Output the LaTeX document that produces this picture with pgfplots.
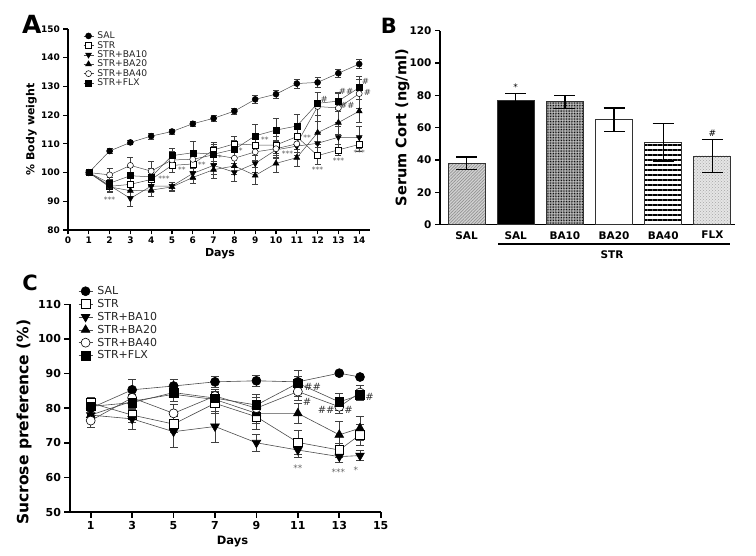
\documentclass[border=0pt]{standalone}
\usepackage{fontspec}
\setmainfont{DejaVu Sans}
\usepackage{pgfplots}
\pgfplotsset{compat=1.18}
\usetikzlibrary{patterns,patterns.meta}
\newcommand{\fs}[1]{\fontsize{#1}{#1}\selectfont}
\pgfplotsset{
  gp/.style={
    scale only axis,
    axis lines=left,
    axis line style={-, line width=1.2pt},
    tick align=outside,
    tick style={black, line width=1.1pt},
    major tick length=4.5pt,
    minor tick num=0,
    /pgf/number format/assume math mode=true,
    tick label style={font=\bfseries\fs{9}},
    label style={font=\bfseries\fs{11}},
    clip=false,
  },
  lnA/.style={line width=0.5pt, color=black!70,
    error bars/y dir=both, error bars/y explicit,
    error bars/error bar style={line width=0.5pt, black!75},
    error bars/error mark options={rotate=90, mark size=3pt, line width=0.5pt, black!75}},
  lnC/.style={line width=0.6pt, color=black!70,
    error bars/y dir=both, error bars/y explicit,
    error bars/error bar style={line width=0.6pt, black!75},
    error bars/error mark options={rotate=90, mark size=4pt, line width=0.6pt, black!75}},
}
\begin{document}
\begin{tikzpicture}
\path (0pt,0pt) rectangle (756pt,555pt);
% ---------------- Panel A ----------------
\begin{axis}[gp,
  at={(68pt,325pt)}, anchor=south west, width=301.6pt, height=201pt,
  xmin=0, xmax=14.5, ymin=80, ymax=150,
  xtick={0,1,...,14}, ytick={80,90,...,150},
  xticklabel style={yshift=1pt},
  xlabel={Days}, ylabel={\% Body weight},
  xlabel style={at={(axis description cs:0.504,-0.119)}, anchor=center},
  ylabel style={at={(axis description cs:-0.121,0.5)}, anchor=center},
  legend style={at={(rel axis cs:0.05,0.99)}, anchor=north west, draw=none, fill=none,
    font=\fs{9.2}, inner sep=0pt, row sep=0pt, nodes={inner sep=0.55pt, text=black!85},
    /tikz/every odd column/.append style={column sep=3pt}},
  legend cell align=left,
  legend image code/.code={\draw[mark repeat=2,mark phase=2,#1] plot coordinates {(0pt,0pt) (5pt,0pt) (10pt,0pt)};},
]
\addplot[lnA, mark=*, mark size=3pt, mark options={solid, draw=black, fill=black}] coordinates {
(1,100) +- (0,0) (2,107.5) +- (0,0.8) (3,110.5) +- (0,0.8) (4,112.7) +- (0,1) (5,114.3) +- (0,0.8)
(6,117.0) +- (0,1) (7,118.9) +- (0,1.2) (8,121.4) +- (0,1) (9,125.5) +- (0,1.5) (10,127.3) +- (0,1.5)
(11,131.0) +- (0,1.5) (12,131.4) +- (0,1.8) (13,134.6) +- (0,1.5) (14,137.8) +- (0,1.5)};
\addlegendentry{SAL}
\addplot[lnA, mark=square*, mark size=3pt, mark options={solid, draw=black, fill=white}] coordinates {
(1,100) +- (0,0) (2,95.2) +- (0,2) (3,95.9) +- (0,2) (4,97.6) +- (0,2.5) (5,102.5) +- (0,2.5)
(6,103.0) +- (0,3) (7,107.9) +- (0,2.5) (8,110.0) +- (0,2.5) (9,109.6) +- (0,2.5) (10,109.6) +- (0,3)
(11,112.5) +- (0,3) (12,105.9) +- (0,3) (13,107.9) +- (0,2) (14,109.8) +- (0,2.5)};
\addlegendentry{STR}
\addplot[lnA, mark=triangle*, mark size=3.4pt, mark options={solid, draw=black, fill=black, rotate=180}] coordinates {
(1,100) +- (0,0) (2,95.5) +- (0,2) (3,91.0) +- (0,2.8) (4,95.3) +- (0,2) (5,95.3) +- (0,1.5)
(6,99.7) +- (0,2) (7,102.5) +- (0,3) (8,100.1) +- (0,3) (9,103.2) +- (0,3) (10,107.9) +- (0,3)
(11,109.2) +- (0,3) (12,110.2) +- (0,4) (13,112.3) +- (0,4) (14,112.3) +- (0,4)};
\addlegendentry{STR+BA10}
\addplot[lnA, mark=triangle*, mark size=3.4pt, mark options={solid, draw=black, fill=black}] coordinates {
(1,100) +- (0,0) (2,95.0) +- (0,2) (3,93.7) +- (0,2) (4,93.9) +- (0,2) (5,95.0) +- (0,1.5)
(6,98.3) +- (0,2) (7,101.0) +- (0,3) (8,102.3) +- (0,3) (9,99.0) +- (0,3) (10,103.2) +- (0,3)
(11,105.2) +- (0,3) (12,113.9) +- (0,4) (13,117.4) +- (0,4) (14,121.4) +- (0,4)};
\addlegendentry{STR+BA20}
\addplot[lnA, mark=*, mark size=3pt, mark options={solid, draw=black, fill=white}] coordinates {
(1,100) +- (0,0) (2,99.2) +- (0,2.2) (3,102.5) +- (0,3) (4,100.5) +- (0,3.5) (5,104.4) +- (0,3)
(6,104.6) +- (0,3) (7,106.2) +- (0,3) (8,105.0) +- (0,3) (9,107.2) +- (0,3) (10,108.3) +- (0,3)
(11,110.0) +- (0,3) (12,123.0) +- (0,5) (13,122.5) +- (0,5) (14,127.5) +- (0,5)};
\addlegendentry{STR+BA40}
\addplot[lnA, mark=square*, mark size=3pt, mark options={solid, draw=black, fill=black}] coordinates {
(1,100) +- (0,0) (2,96.3) +- (0,2) (3,98.9) +- (0,3) (4,98.5) +- (0,3) (5,105.9) +- (0,2.5)
(6,106.9) +- (0,4) (7,106.4) +- (0,3.5) (8,108.1) +- (0,3) (9,112.8) +- (0,4) (10,114.8) +- (0,4)
(11,116.2) +- (0,4) (12,124.1) +- (0,4) (13,124.9) +- (0,3) (14,129.6) +- (0,4)};
\addlegendentry{STR+FLX}
\begin{scope}[every node/.style={font=\fs{7.5}, text=black!65, inner sep=0pt}]
\node at (axis cs:2,90.6) {***};
\node at (axis cs:4.62,97.7) {***};
\node at (axis cs:5.48,100.9) {**};
\node at (axis cs:6.44,102.6) {**};
\node at (axis cs:7.31,105.2) {*};
\node at (axis cs:8.3,107.6) {*};
\node at (axis cs:9.47,111.3) {**};
\node at (axis cs:10.55,106.7) {***};
\node at (axis cs:11.5,112.3) {**};
\node at (axis cs:12.0,101.1) {***};
\node at (axis cs:13.0,104.0) {***};
\node at (axis cs:14.0,106.9) {***};
\end{scope}
\begin{scope}[every node/.style={font=\fs{8.5}, text=black!75, inner sep=0pt}]
\node at (axis cs:12.32,125.5) {\#};
\node at (axis cs:13.37,128.4) {\#\#};
\node at (axis cs:13.43,123.5) {\#\#};
\node at (axis cs:14.3,131.7) {\#};
\node at (axis cs:14.39,128.0) {\#};
\end{scope}
\end{axis}
\node[font=\bfseries\fs{25}] at (31.7pt,531pt) {A};
% ---------------- Panel B ----------------
\begin{axis}[gp,
  at={(440pt,330.3pt)}, anchor=south west, width=295pt, height=194pt,
  axis line style={-, line width=1.5pt},
  tick style={black, line width=1.3pt}, major tick length=5pt,
  xmin=-0.54, xmax=5.46, ymin=0, ymax=120,
  ytick={0,20,...,120}, xtick={0,1,2,3,4,5},
  xticklabels={SAL,SAL,BA10,BA20,BA40,FLX},
  x tick style={draw=none},
  tick label style={font=\bfseries\fs{10.5}},
  xticklabel style={yshift=2pt},
  ylabel={Serum Cort (ng/ml)},
  ylabel style={font=\bfseries\fs{14.5}, at={(axis description cs:-0.127,0.5)}, anchor=center},
  every axis plot/.append style={ybar, bar width=37pt, bar shift=0pt, draw=black!80, line width=0.8pt,
    error bars/y dir=both, error bars/y explicit,
    error bars/error bar style={line width=1.4pt, black},
    error bars/error mark options={rotate=90, mark size=10.5pt, line width=1.4pt, black}},
]
\addplot[fill=gray!35, postaction={pattern={Lines[angle=45,distance=2.2pt,line width=0.7pt]}, pattern color=gray!85}] coordinates {(0,38) +- (0,3.8)};
\addplot[fill=black] coordinates {(1,77) +- (0,4)};
\addplot[fill=gray!45, postaction={pattern={Dots[distance=1.6pt,radius=0.55pt]}, pattern color=black}] coordinates {(2,76) +- (0,4)};
\addplot[fill=white] coordinates {(3,65) +- (0,7.3)};
\addplot[fill=white, postaction={pattern={Lines[angle=0,distance=5pt,line width=1.2pt]}, pattern color=black}] coordinates {(4,51) +- (0,11.5)};
\addplot[fill=gray!20, postaction={pattern=crosshatch dots, pattern color=gray!70}] coordinates {(5,42.5) +- (0,10.3)};
\node[font=\fs{9}, inner sep=0pt] at (axis cs:1,85) {*};
\node[font=\fs{9}, inner sep=0pt] at (axis cs:5,56.7) {\#};
\end{axis}
\draw[line width=1.3pt] (498pt,311pt) -- (730pt,311pt);
\node[font=\bfseries\fs{10.5}] at (612pt,300pt) {STR};
\node[font=\bfseries\fs{21}] at (389pt,529.5pt) {B};
% ---------------- Panel C ----------------
\begin{axis}[gp,
  at={(70pt,43pt)}, anchor=south west, width=310.7pt, height=207.7pt,
  axis line style={-, line width=1.8pt},
  tick style={black, line width=1.6pt}, major tick length=5.5pt,
  xmin=0, xmax=15, ymin=50, ymax=110,
  xtick={1,3,...,15}, ytick={50,60,...,110},
  tick label style={font=\bfseries\fs{11}},
  xlabel={Days}, ylabel={Sucrose preference (\%)},
  xlabel style={font=\bfseries\fs{11.5}, at={(axis description cs:0.523,-0.143)}, anchor=center},
  ylabel style={font=\bfseries\fs{15.5}, at={(axis description cs:-0.148,0.433)}, anchor=center},
  legend style={at={(rel axis cs:0.026,1.092)}, anchor=north west, draw=none, fill=none,
    font=\fs{11}, inner sep=0pt, row sep=1.2pt, nodes={inner sep=1pt, text=black!85},
    /tikz/every odd column/.append style={column sep=3.5pt}},
  legend cell align=left,
  legend image code/.code={\draw[mark repeat=2,mark phase=2,#1] plot coordinates {(0pt,0pt) (7pt,0pt) (14pt,0pt)};},
]
\addplot[lnC, mark=*, mark size=4.5pt, mark options={solid, draw=black, fill=black}] coordinates {
(1,80.0) +- (0,2) (3,85.3) +- (0,3) (5,86.4) +- (0,2) (7,87.6) +- (0,1.5) (9,87.9) +- (0,1.5)
(11,87.6) +- (0,1.5) (13,90.1) +- (0,0.5) (14,89.0) +- (0,0.5)};
\addlegendentry{SAL}
\addplot[lnC, mark=square*, mark size=4.3pt, mark options={solid, draw=black, fill=white}] coordinates {
(1,81.5) +- (0,1.5) (3,78.0) +- (0,2) (5,75.4) +- (0,2.5) (7,81.4) +- (0,3) (9,77.5) +- (0,3.5)
(11,70.1) +- (0,3.5) (13,67.9) +- (0,2) (14,72.3) +- (0,3)};
\addlegendentry{STR}
\addplot[lnC, mark=triangle*, mark size=5pt, mark options={solid, draw=black, fill=black, rotate=180}] coordinates {
(1,78.0) +- (0,2) (3,76.9) +- (0,3) (5,73.2) +- (0,4.5) (7,74.7) +- (0,4.5) (9,70.0) +- (0,2.5)
(11,67.9) +- (0,2) (13,66.0) +- (0,1.5) (14,66.3) +- (0,1.5)};
\addlegendentry{STR+BA10}
\addplot[lnC, mark=triangle*, mark size=5pt, mark options={solid, draw=black, fill=black}] coordinates {
(1,78.0) +- (0,2) (3,82.0) +- (0,2) (5,84.0) +- (0,2) (7,82.5) +- (0,2) (9,78.5) +- (0,3)
(11,78.5) +- (0,3) (13,72.3) +- (0,4) (14,74.2) +- (0,3.5)};
\addlegendentry{STR+BA20}
\addplot[lnC, mark=*, mark size=4.5pt, mark options={solid, draw=black, fill=white}] coordinates {
(1,76.4) +- (0,2) (3,83.0) +- (0,2) (5,78.5) +- (0,2.5) (7,83.5) +- (0,2) (9,80.0) +- (0,3)
(11,84.8) +- (0,2.5) (13,80.4) +- (0,2) (14,84.5) +- (0,2)};
\addlegendentry{STR+BA40}
\addplot[lnC, mark=square*, mark size=4.3pt, mark options={solid, draw=black, fill=black}] coordinates {
(1,80.5) +- (0,2) (3,81.6) +- (0,2) (5,84.5) +- (0,2.5) (7,82.9) +- (0,2) (9,80.9) +- (0,3)
(11,87.2) +- (0,3.8) (13,81.8) +- (0,2.5) (14,83.8) +- (0,1.5)};
\addlegendentry{STR+FLX}
\begin{scope}[every node/.style={font=\fs{9}, text=black!60, inner sep=0pt}]
\node at (axis cs:11.0,62.6) {**};
\node at (axis cs:12.96,61.6) {***};
\node at (axis cs:13.8,62.2) {*};
\end{scope}
\begin{scope}[every node/.style={font=\fs{10}, text=black!80, inner sep=0pt}]
\node at (axis cs:11.71,86.0) {\#\#};
\node at (axis cs:11.44,81.7) {\#};
\node at (axis cs:12.37,79.5) {\#\#};
\node at (axis cs:13.45,79.5) {\#};
\node at (axis cs:14.46,83.2) {\#};
\end{scope}
\end{axis}
\node[font=\bfseries\fs{21}] at (30pt,272.5pt) {C};
\end{tikzpicture}
\end{document}
